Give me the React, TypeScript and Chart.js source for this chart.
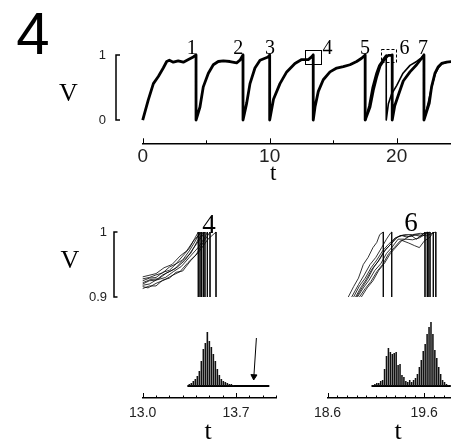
import React, { useEffect, useRef } from 'react';
import { Chart, registerables } from 'chart.js';

Chart.register(...registerables);

// ---------------- Top panel: V(t) of the bundle of trials ----------------
// [t, V] points; a reset is a vertical drop from V=1 to V=0 at the spike time
const TRIAL_COMMON: [number, number][] = [
  [0, 0], [0.44, 0.31], [0.84, 0.56], [1.23, 0.67], [1.62, 0.8], [1.89, 0.9], [2.1, 0.92], [2.41, 0.89],
  [2.8, 0.91], [3.2, 0.89], [3.6, 0.93], [3.98, 0.97], [4.2, 1], [4.2, 0],
  [4.51, 0.2], [4.77, 0.51], [5.17, 0.72], [5.56, 0.85], [5.95, 0.9], [6.35, 0.91], [6.87, 0.9], [7.4, 0.88],
  [7.66, 0.92], [7.9, 1], [7.9, 0],
  [8.19, 0.26], [8.45, 0.56], [8.84, 0.8], [9.24, 0.92], [9.63, 0.95], [9.88, 0.97], [10.0, 1], [10.0, 0],
  [10.3, 0.32], [10.81, 0.56], [11.34, 0.74], [11.99, 0.87], [12.52, 0.93], [13.04, 0.93], [13.3, 0.97],
  [13.43, 1], [13.43, 0],
  [13.57, 0.2], [13.83, 0.44], [14.22, 0.62], [14.75, 0.74], [15.28, 0.8], [15.8, 0.82], [16.32, 0.85],
  [16.85, 0.9], [17.24, 0.95], [17.52, 1], [17.52, 0],
];
const TRIAL_EARLY6: [number, number][] = [
  [17.52, 0], [17.82, 0.22], [18.08, 0.5], [18.38, 0.72], [18.6, 0.84], [18.82, 0.9], [18.97, 0.95],
  [19.07, 0.975], [19.18, 1], [19.18, 0],
  [19.35, 0.25], [19.6, 0.4], [20.0, 0.53], [20.5, 0.72], [21.05, 0.84], [21.57, 0.9], [21.97, 0.96],
  [22.15, 1], [22.15, 0],
  [22.5, 0.28], [22.75, 0.5], [23.02, 0.7], [23.28, 0.8], [23.54, 0.86], [23.94, 0.89], [24.3, 0.89],
];
const TRIAL_LATE6: [number, number][] = [
  [17.52, 0], [17.9, 0.2], [18.16, 0.46], [18.43, 0.67], [18.69, 0.83], [18.92, 0.9], [19.14, 0.955],
  [19.25, 0.98], [19.35, 0.993], [19.65, 0.995], [19.65, 1], [19.65, 0],
  [19.85, 0.22], [20.13, 0.38], [20.52, 0.6], [21.05, 0.74], [21.57, 0.85], [21.97, 0.95], [22.15, 1], [22.15, 0],
  [22.57, 0.26], [22.75, 0.51], [23.02, 0.72], [23.28, 0.82], [23.54, 0.87], [23.94, 0.89], [24.3, 0.9],
];
const TOP_T_TICKS = [0, 5, 10, 15, 20];
const TOP_T_LABELS = ['0', '', '10', '', '20'];
const TOP_V_TICKS = [0, 1];
const TOP_V_LABELS = ['0', '1'];
const SPIKE_LABELS = ['1', '2', '3', '4', '5', '6', '7'];
const BOX_4 = { t: [12.78, 14.02], v: [0.857, 1.077] };
const BOX_6 = { t: [18.74, 19.94], v: [0.897, 1.1] };

// ---------------- Detail traces near spike 4 and spike 6 ----------------
const TRACES_4: [number, number][][] = [
  [[13.0, 0.928], [13.05, 0.93], [13.1, 0.934], [13.15, 0.937], [13.2, 0.946], [13.25, 0.951], [13.3, 0.963], [13.35, 0.975], [13.39, 0.99], [13.417, 1.0], [13.417, 0.9]],
  [[13.0, 0.925], [13.05, 0.929], [13.1, 0.93], [13.15, 0.938], [13.2, 0.941], [13.25, 0.951], [13.3, 0.957], [13.35, 0.971], [13.4, 0.988], [13.43, 1.0], [13.43, 0.9]],
  [[13.0, 0.931], [13.04, 0.933], [13.1, 0.936], [13.16, 0.945], [13.22, 0.95], [13.28, 0.963], [13.33, 0.971], [13.38, 0.986], [13.442, 1.0], [13.442, 0.9]],
  [[13.0, 0.922], [13.06, 0.927], [13.12, 0.928], [13.18, 0.937], [13.24, 0.943], [13.3, 0.956], [13.36, 0.967], [13.41, 0.986], [13.455, 1.0], [13.455, 0.9]],
  [[13.0, 0.92], [13.05, 0.925], [13.1, 0.926], [13.15, 0.934], [13.2, 0.939], [13.26, 0.946], [13.32, 0.957], [13.38, 0.975], [13.43, 0.989], [13.467, 1.0], [13.467, 0.9]],
  [[13.0, 0.918], [13.05, 0.92], [13.1, 0.926], [13.17, 0.93], [13.23, 0.939], [13.29, 0.947], [13.35, 0.961], [13.42, 0.977], [13.47, 0.993], [13.485, 1.0], [13.485, 0.9]],
  [[13.0, 0.916], [13.04, 0.914], [13.1, 0.921], [13.16, 0.926], [13.22, 0.933], [13.28, 0.939], [13.34, 0.953], [13.4, 0.965], [13.46, 0.986], [13.505, 1.0], [13.505, 0.9]],
  [[13.0, 0.913], [13.05, 0.917], [13.1, 0.917], [13.15, 0.926], [13.2, 0.929], [13.25, 0.938], [13.3, 0.94], [13.36, 0.956], [13.42, 0.969], [13.49, 0.989], [13.55, 1.0], [13.55, 0.9]],
];
const TRACES_6: [number, number][][] = [
  [[18.815, 0.9], [18.87, 0.916], [18.92, 0.929], [18.97, 0.95], [19.02, 0.961], [19.07, 0.976], [19.11, 0.984], [19.14, 0.996], [19.177, 1.0], [19.177, 0.9]],
  [[18.85, 0.9], [18.92, 0.919], [18.98, 0.934], [19.04, 0.95], [19.1, 0.961], [19.16, 0.976], [19.21, 0.989], [19.25, 0.998], [19.264, 1.0], [19.264, 0.9]],
  [[18.89, 0.9], [18.95, 0.916], [19.0, 0.927], [19.06, 0.943], [19.12, 0.954], [19.18, 0.969], [19.24, 0.979], [19.3, 0.99], [19.36, 0.995], [19.42, 0.992], [19.5, 0.996], [19.56, 0.993], [19.608, 1.0], [19.608, 0.9]],
  [[18.91, 0.9], [18.97, 0.914], [19.03, 0.926], [19.09, 0.941], [19.15, 0.951], [19.21, 0.967], [19.27, 0.977], [19.33, 0.989], [19.4, 0.989], [19.46, 0.995], [19.52, 0.989], [19.58, 0.996], [19.632, 1.0], [19.632, 0.9]],
  [[18.93, 0.9], [18.99, 0.913], [19.05, 0.924], [19.11, 0.939], [19.17, 0.95], [19.23, 0.966], [19.29, 0.976], [19.35, 0.986], [19.41, 0.989], [19.48, 0.988], [19.55, 0.991], [19.62, 0.997], [19.66, 1.0], [19.66, 0.9]],
  [[18.95, 0.9], [19.01, 0.914], [19.07, 0.925], [19.13, 0.941], [19.19, 0.952], [19.25, 0.967], [19.31, 0.977], [19.37, 0.987], [19.44, 0.983], [19.5, 0.979], [19.55, 0.976], [19.6, 0.986], [19.66, 0.992], [19.694, 1.0], [19.694, 0.9]],
  [[18.87, 0.9], [18.93, 0.917], [18.99, 0.929], [19.05, 0.945], [19.11, 0.957], [19.17, 0.971], [19.23, 0.981], [19.3, 0.991], [19.38, 0.995], [19.45, 0.993], [19.53, 0.996], [19.62, 0.994], [19.68, 0.998], [19.72, 1.0], [19.72, 0.9]],
  [[18.9, 0.9], [18.96, 0.915], [19.02, 0.929], [19.08, 0.946], [19.14, 0.958], [19.2, 0.973], [19.26, 0.982], [19.33, 0.993], [19.4, 0.996], [19.48, 0.996], [19.56, 0.998], [19.61, 0.997], [19.64, 1.0], [19.64, 0.9]],
];
const LOW_V_TICKS = [0.9, 1];
const LOW_V_LABELS = ['0.9', '1'];

// ---------------- Spike-time histograms ----------------
const HIST4_T = [13.35, 13.365, 13.38, 13.395, 13.41, 13.425, 13.44, 13.455, 13.47, 13.485, 13.5, 13.515, 13.53, 13.545, 13.56, 13.575, 13.59, 13.605, 13.62, 13.635, 13.65, 13.665, 13.68];
const HIST4_N = [2, 3, 5, 7, 10, 15, 25, 37, 43, 54, 45, 39, 32, 25, 17, 11, 7, 5, 4, 3, 2, 2, 1];
const HIST4_BASE_T = [13.335, 13.95];
const HIST4_ARROW_T = [13.853, 13.834];
const HIST4_ARROW_N = [48, 9.5];
const HIST6_T = [19.07, 19.09, 19.11, 19.13, 19.15, 19.17, 19.19, 19.21, 19.23, 19.25, 19.27, 19.29, 19.31, 19.33, 19.35, 19.37, 19.39, 19.41, 19.43, 19.45, 19.47, 19.49, 19.51, 19.53, 19.55, 19.57, 19.59, 19.61, 19.63, 19.65, 19.67, 19.69, 19.71, 19.73, 19.75, 19.77, 19.79, 19.81, 19.83, 19.85];
const HIST6_N = [1, 2, 3, 3, 5, 6, 17, 30, 38, 34, 32, 33, 34, 21, 22, 11, 9, 5, 4, 6, 4, 6, 8, 12, 19, 26, 35, 42, 52, 59, 64, 52, 36, 28, 19, 12, 6, 4, 2, 1];
const HIST6_BASE_T = [19.055, 19.875];
const T4_TICKS = [13.0, 13.1, 13.2, 13.3, 13.4, 13.5, 13.6, 13.7, 13.8, 13.9, 14.0];
const T4_LABELS = ['13.0', '', '', '', '', '', '', '13.7', '', '', ''];
const T6_TICKS = [18.6, 18.7, 18.8, 18.9, 19.0, 19.1, 19.2, 19.3, 19.4, 19.5, 19.6, 19.7, 19.8];
const T6_LABELS = ['18.6', '', '', '', '', '', '', '', '', '', '19.6', '', ''];

// ---------------- helpers ----------------
const xy = (pts: [number, number][]) => pts.map(([x, y]) => ({ x, y }));
const xyArr = (xs: number[], ys: number[]) => xs.map((x, i) => ({ x, y: ys[i] }));

const deco = {
  id: 'deco',
  afterDatasetsDraw(chart: any, _args: any, o: any) {
    const ctx = chart.ctx;
    const xs = chart.scales.x;
    const ys = chart.scales.y;
    ctx.save();
    ctx.strokeStyle = '#000';
    ctx.fillStyle = '#000';
    if (o.upTicks) {
      const u = o.upTicks;
      const base = xs.top;
      ctx.lineWidth = 1;
      u.values.forEach((v: number, i: number) => {
        const px = Math.round(xs.getPixelForValue(v)) + 0.5;
        const len = u.major.includes(i) ? u.majorLen : u.minorLen;
        ctx.beginPath();
        ctx.moveTo(px, base);
        ctx.lineTo(px, base - len);
        ctx.stroke();
      });
    }
    if (o.bracket) {
      const b = o.bracket;
      const y0 = ys.getPixelForValue(b.values[0]);
      const y1 = ys.getPixelForValue(b.values[b.values.length - 1]);
      ctx.lineWidth = 1.5;
      ctx.beginPath();
      ctx.moveTo(b.x + b.serif, y1);
      ctx.lineTo(b.x, y1);
      ctx.lineTo(b.x, y0);
      ctx.lineTo(b.x + b.serif, y0);
      ctx.stroke();
      ctx.font = b.font;
      ctx.fillStyle = '#222';
      ctx.textAlign = 'right';
      ctx.textBaseline = 'middle';
      b.values.forEach((v: number, i: number) => {
        ctx.fillText(b.labels[i], b.x - b.gap, ys.getPixelForValue(v));
      });
    }
    if (o.boxes) {
      ctx.lineWidth = 1;
      o.boxes.forEach((bx: any) => {
        const l = xs.getPixelForValue(bx.t[0]);
        const r = xs.getPixelForValue(bx.t[1]);
        const t = ys.getPixelForValue(bx.v[1]);
        const btm = ys.getPixelForValue(bx.v[0]);
        ctx.setLineDash(bx.dash ? [3, 2] : []);
        ctx.strokeRect(Math.round(l) + 0.5, Math.round(t) + 0.5, Math.round(r - l), Math.round(btm - t));
      });
      ctx.setLineDash([]);
    }
    ctx.restore();
  },
};

const baseOpts = {
  responsive: false,
  animation: false as const,
  events: [] as any[],
};
const noPlugins = { legend: { display: false }, tooltip: { enabled: false } };

const xAxis = (min: number, max: number, ticks: number[], labels: string[], size: number, pad: number, h: number) => ({
  type: 'linear',
  min,
  max,
  offset: false,
  afterBuildTicks: (s: any) => {
    s.ticks = ticks.map((v) => ({ value: v }));
  },
  afterFit: (s: any) => {
    s.height = h;
  },
  grid: { display: false, drawTicks: false },
  border: { display: true, color: '#000', width: 1.5 },
  ticks: {
    autoSkip: false,
    maxRotation: 0,
    padding: pad,
    color: '#222',
    font: { family: 'Liberation Sans', size },
    callback: (_v: any, i: number) => labels[i],
  },
});

const lineDs = (pts: [number, number][], w: number) => ({
  type: 'line',
  data: xy(pts),
  borderColor: '#000',
  borderWidth: w,
  pointRadius: 0,
  tension: 0,
  fill: false,
  clip: false,
  borderJoinStyle: 'round',
  borderCapStyle: 'butt',
});

function topConfig(): any {
  return {
    type: 'line',
    data: {
      datasets: [lineDs(TRIAL_COMMON, 2.8), lineDs(TRIAL_LATE6, 2.8), lineDs(TRIAL_EARLY6, 1.6)],
    },
    options: {
      ...baseOpts,
      layout: { padding: { left: 142.7, right: 0, top: 42, bottom: 0 } },
      scales: {
        x: xAxis(0, 24.28, TOP_T_TICKS, TOP_T_LABELS, 19, 2.3, 36.7),
        y: { type: 'linear', display: false, min: -0.358, max: 1.2 },
      },
      plugins: {
        ...noPlugins,
        deco: {
          upTicks: { values: TOP_T_TICKS, major: [0, 2, 4], majorLen: 5, minorLen: 3 },
          bracket: { x: 116, serif: 4, values: TOP_V_TICKS, labels: TOP_V_LABELS, gap: 10, font: '13px "Liberation Sans"' },
          boxes: [
            { t: BOX_4.t, v: BOX_4.v, dash: false },
            { t: BOX_6.t, v: BOX_6.v, dash: true },
          ],
        },
      },
    },
    plugins: [deco],
  };
}

function traceConfig(traces: [number, number][][], min: number, max: number, padL: number, padR: number, withBracket: boolean): any {
  return {
    type: 'line',
    data: { datasets: traces.map((t) => ({ ...lineDs(t, 0.8), borderJoinStyle: 'miter' })) },
    options: {
      ...baseOpts,
      layout: { padding: { left: padL, right: padR, top: 32, bottom: 13 } },
      scales: {
        x: { type: 'linear', display: false, min, max },
        y: { type: 'linear', display: false, min: 0.9, max: 1.0 },
      },
      plugins: {
        ...noPlugins,
        deco: withBracket
          ? { bracket: { x: 114, serif: 3.5, values: LOW_V_TICKS, labels: LOW_V_LABELS, gap: 7, font: '13px "Liberation Sans"' } }
          : {},
      },
    },
    plugins: [deco],
  };
}

function histConfig(
  ts: number[], ns: number[], baseT: number[], min: number, max: number, padL: number, padR: number,
  ticks: number[], labels: string[], arrow: boolean,
): any {
  const datasets: any[] = [
    {
      type: 'bar',
      data: xyArr(ts, ns),
      backgroundColor: '#111',
      borderWidth: 0,
      barPercentage: 0.8,
      categoryPercentage: 1,
    },
    {
      type: 'line',
      data: xyArr(baseT, [0, 0]),
      borderColor: '#000',
      borderWidth: 1.8,
      pointRadius: 0,
      clip: false,
    },
  ];
  if (arrow) {
    datasets.push({
      type: 'line',
      data: xyArr(HIST4_ARROW_T, HIST4_ARROW_N),
      borderColor: '#000',
      backgroundColor: '#000',
      borderWidth: 1,
      pointRadius: [0, 3.5],
      pointStyle: 'triangle',
      pointRotation: 183,
      clip: false,
    });
  }
  return {
    type: 'bar',
    data: { datasets },
    options: {
      ...baseOpts,
      layout: { padding: { left: padL, right: padR, top: 10, bottom: 0 } },
      scales: {
        x: xAxis(min, max, ticks, labels, 14, 6.9, 45),
        y: { type: 'linear', display: false, min: -12, max: 66 },
      },
      plugins: {
        ...noPlugins,
        deco: { upTicks: { values: ticks, major: [0, labels.findIndex((l, i) => i > 0 && l !== '')], majorLen: 5, minorLen: 2.5 } },
      },
    },
    plugins: [deco],
  };
}

function ChartCanvas({ top, height, make }: { top: number; height: number; make: () => any }) {
  const ref = useRef<HTMLCanvasElement>(null);
  useEffect(() => {
    const chart = new Chart(ref.current as HTMLCanvasElement, make());
    return () => chart.destroy();
  }, []);
  return (
    <canvas
      ref={ref}
      width={451}
      height={height}
      style={{ position: 'absolute', left: 0, top, width: 451, height, display: 'block' }}
    />
  );
}

const SERIF = '"Liberation Serif", "Times New Roman", serif';
const SANS = '"Liberation Sans", Arial, sans-serif';

function Label({ x, base, size, serif, children }: { x: number; base: number; size: number; serif?: boolean; children: React.ReactNode }) {
  const k = serif ? 0.8375 : 0.8465;
  return (
    <div
      style={{
        position: 'absolute',
        left: x,
        top: base - k * size,
        transform: 'translateX(-50%)',
        fontFamily: serif ? SERIF : SANS,
        fontSize: size,
        lineHeight: 1,
        whiteSpace: 'nowrap',
        color: '#000',
      }}
    >
      {children}
    </div>
  );
}

const SPIKE_LABEL_X = [191.7, 238.3, 270, 327.5, 365, 404.5, 423];

export default function App() {
  return (
    <div
      style={{
        position: 'fixed',
        left: 0,
        top: 0,
        width: 451,
        height: 443,
        background: '#fff',
        overflow: 'hidden',
      }}
    >
      <ChartCanvas top={0} height={180} make={topConfig} />
      <ChartCanvas top={200} height={110} make={() => traceConfig(TRACES_4, 13.0, 14.0, 142.7, 175, true)} />
      <ChartCanvas top={200} height={110} make={() => traceConfig(TRACES_6, 18.6, 19.877, 327.5, 0, false)} />
      <ChartCanvas
        top={310}
        height={133}
        make={() => histConfig(HIST4_T, HIST4_N, HIST4_BASE_T, 13.0, 14.0, 142.7, 175, T4_TICKS, T4_LABELS, true)}
      />
      <ChartCanvas
        top={310}
        height={133}
        make={() => histConfig(HIST6_T, HIST6_N, HIST6_BASE_T, 18.6, 19.877, 327.5, 0, T6_TICKS, T6_LABELS, false)}
      />

      <Label x={33} base={55} size={60}>4</Label>
      <Label x={68.5} base={101.7} size={26} serif>V</Label>
      <Label x={70} base={268.3} size={26} serif>V</Label>
      <Label x={273.3} base={180} size={23} serif>t</Label>
      <Label x={208} base={440} size={26} serif>t</Label>
      <Label x={398} base={440} size={26} serif>t</Label>
      {SPIKE_LABELS.map((s, i) => (
        <Label key={s} x={SPIKE_LABEL_X[i]} base={53.5} size={20} serif>
          {s}
        </Label>
      ))}
      <Label x={209} base={233.3} size={27} serif>4</Label>
      <Label x={411} base={231.7} size={27} serif>6</Label>
    </div>
  );
}
